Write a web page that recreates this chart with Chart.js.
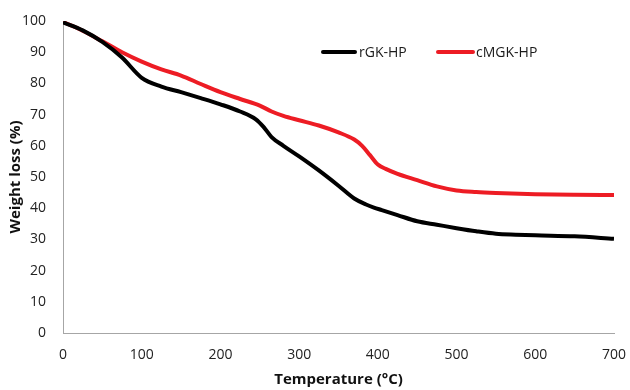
<!DOCTYPE html>
<html>
<head>
<meta charset="utf-8">
<script src="https://cdn.jsdelivr.net/npm/chart.js@4/dist/chart.umd.min.js"></script>
<style>
  html, body { margin: 0; padding: 0; background: #ffffff; }
  #wrap { width: 630px; height: 390px; position: relative; }
</style>
</head>
<body>
<div id="wrap"><canvas id="c" width="630" height="390"></canvas></div>
<script>
// ---- data ----
const rgkTemps = [0, 25, 50, 75, 100, 125, 150, 175, 200, 225, 245, 255, 265, 280, 300, 325, 350, 370, 385, 395, 405, 425, 450, 475, 500, 525, 550, 575, 600, 650, 700];
const rgkValues = [99.6, 97, 93.3, 88.3, 81.8, 79, 77.2, 75.3, 73.3, 71, 68.5, 66, 62.8, 60, 56.6, 52.1, 47.2, 43.1, 41.2, 40.2, 39.4, 37.8, 35.8, 34.7, 33.6, 32.6, 31.8, 31.5, 31.3, 31, 30.2];
const cmgkTemps = [0, 25, 50, 75, 100, 125, 150, 175, 200, 225, 250, 265, 280, 300, 325, 350, 370, 380, 390, 400, 410, 425, 450, 475, 500, 525, 550, 600, 650, 700];
const cmgkValues = [99.7, 96.9, 93.5, 90, 87, 84.5, 82.5, 79.8, 77.2, 75, 72.9, 71, 69.6, 68.2, 66.5, 64.3, 62, 60, 57, 54, 52.6, 51, 49, 47, 45.7, 45.2, 44.9, 44.5, 44.3, 44.2];
const seriesNames = ['rGK-HP', 'cMGK-HP'];
const seriesColors = ['#000000', '#ed1c24'];
const xTitle = 'Temperature (°C)';
const yTitle = 'Weight loss (%)';

const toPts = (xs, ys) => xs.map((x, i) => ({ x: x, y: ys[i] }));

const FONT = "'Open Sans', 'Liberation Sans', sans-serif";

const legendPlugin = {
  id: 'insideLegend',
  afterDraw(chart) {
    const ctx = chart.ctx;
    const items = [
      { x1: 323, x2: 355, tx: 359, y: 52, i: 0 },
      { x1: 438, x2: 473, tx: 476, y: 52, i: 1 }
    ];
    ctx.save();
    ctx.font = '14px ' + FONT;
    ctx.textBaseline = 'middle';
    ctx.textAlign = 'left';
    items.forEach(it => {
      ctx.strokeStyle = seriesColors[it.i];
      ctx.lineWidth = 4;
      ctx.lineCap = 'round';
      ctx.beginPath();
      ctx.moveTo(it.x1, it.y);
      ctx.lineTo(it.x2, it.y);
      ctx.stroke();
      ctx.fillStyle = '#1a1a1a';
      ctx.fillText(seriesNames[it.i], it.tx, it.y + 1);
    });
    ctx.restore();
  }
};

new Chart(document.getElementById('c'), {
  type: 'line',
  data: {
    datasets: [
      {
        label: seriesNames[0],
        data: toPts(rgkTemps, rgkValues),
        borderColor: seriesColors[0],
        borderWidth: 4,
        pointRadius: 0,
        tension: 0.4,
        cubicInterpolationMode: 'monotone',
        fill: false
      },
      {
        label: seriesNames[1],
        data: toPts(cmgkTemps, cmgkValues),
        borderColor: seriesColors[1],
        borderWidth: 4,
        pointRadius: 0,
        tension: 0.4,
        cubicInterpolationMode: 'monotone',
        fill: false
      }
    ]
  },
  options: {
    responsive: false,
    animation: false,
    devicePixelRatio: 1,
    layout: { padding: { top: 21, right: 16, bottom: 0, left: 0 } },
    plugins: {
      legend: { display: false },
      tooltip: { enabled: false }
    },
    scales: {
      x: {
        type: 'linear',
        min: 0, max: 700,
        ticks: { stepSize: 100, padding: 14, color: '#222', font: { family: FONT, size: 14 }, maxRotation: 0 },
        grid: { display: true, color: 'rgba(0,0,0,0)', drawTicks: false },
        border: { display: true, color: '#a6a6a6', width: 1 },
        title: { display: true, text: xTitle, color: '#111', font: { family: FONT, size: 15, weight: 'bold' }, padding: { top: 0, bottom: 1 } },
        afterFit(s) { s.height = 57; s.paddingLeft = 0; s.paddingRight = 0; }
      },
      y: {
        min: 0, max: 100,
        ticks: { stepSize: 10, padding: 17, color: '#222', font: { family: FONT, size: 14 } },
        grid: { display: true, color: 'rgba(0,0,0,0)', drawTicks: false },
        border: { display: true, color: '#a6a6a6', width: 1 },
        title: { display: true, text: yTitle, color: '#111', font: { family: FONT, size: 15, weight: 'bold' }, padding: { top: 7, bottom: 0 } },
        afterFit(s) { s.width = 63; s.paddingTop = 0; s.paddingBottom = 0; }
      }
    }
  },
  plugins: [legendPlugin]
});
</script>
</body>
</html>
